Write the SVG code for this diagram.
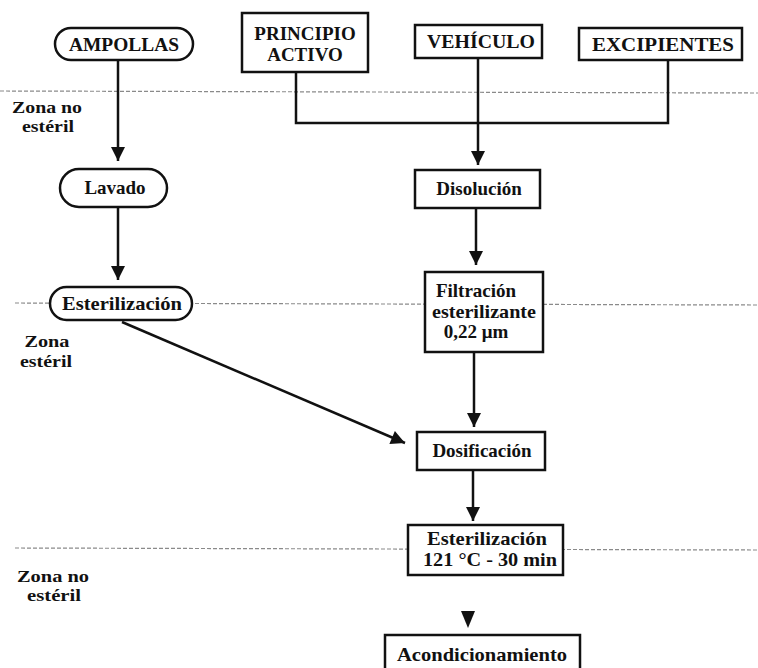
<svg xmlns="http://www.w3.org/2000/svg" width="758" height="668" viewBox="0 0 758 668">
<style>
  .bg{fill:#fff}
  .zone{stroke:#8a8a8a;stroke-width:1.2;stroke-dasharray:4 2;fill:none}
  .node{fill:#fff;stroke:#111;stroke-width:2.5}
  .conn{fill:none;stroke:#111;stroke-width:2.5}
  text{font-family:"Liberation Serif","Times New Roman",serif;font-weight:bold;fill:#111;text-anchor:middle}
  .t{font-size:19px}
  .z{font-size:16px}
</style>
<defs>
  <marker id="arr" viewBox="0 0 10 10" refX="10" refY="5" markerWidth="15" markerHeight="14" markerUnits="userSpaceOnUse" orient="auto">
    <path d="M0,0 L10,5 L0,10 z" fill="#111"/>
  </marker>
</defs>
<rect class="bg" width="758" height="668"/>

<g id="zones">
  <path class="zone" d="M0,91 L758,93"/>
  <path class="zone" d="M15,303 L758,305"/>
  <path class="zone" d="M15,548 L758,550"/>
  <text class="z" x="47" y="113" textLength="70" lengthAdjust="spacingAndGlyphs">Zona no</text>
  <text class="z" x="48" y="132" textLength="52" lengthAdjust="spacingAndGlyphs">estéril</text>
  <text class="z" x="47" y="347" textLength="45" lengthAdjust="spacingAndGlyphs">Zona</text>
  <text class="z" x="46" y="367" textLength="52" lengthAdjust="spacingAndGlyphs">estéril</text>
  <text class="z" x="53" y="582" textLength="72" lengthAdjust="spacingAndGlyphs">Zona no</text>
  <text class="z" x="54" y="601" textLength="54" lengthAdjust="spacingAndGlyphs">estéril</text>
</g>

<g id="connectors">
  <path class="conn" d="M118,60 V161" marker-end="url(#arr)"/>
  <path class="conn" d="M118,208 V280" marker-end="url(#arr)"/>
  <path class="conn" d="M296,72 V123 H668 V60"/>
  <path class="conn" d="M478,58 V165" marker-end="url(#arr)"/>
  <path class="conn" d="M476,208 V265" marker-end="url(#arr)"/>
  <path class="conn" d="M474,352 V427" marker-end="url(#arr)"/>
  <path class="conn" d="M122,322 L405,443" marker-end="url(#arr)"/>
  <path class="conn" d="M473,470 V521" marker-end="url(#arr)"/>
  <path d="M461,611 L475,611 L468,628 z" fill="#111"/>
</g>

<g id="ampollas">
  <rect class="node" x="55" y="28" width="138" height="32" rx="16"/>
  <text class="t" x="124" y="51" textLength="110" lengthAdjust="spacingAndGlyphs">AMPOLLAS</text>
</g>
<g id="principio-activo">
  <rect class="node" x="242" y="13" width="126" height="59"/>
  <text class="t" x="305" y="40">PRINCIPIO</text>
  <text class="t" x="305" y="61">ACTIVO</text>
</g>
<g id="vehiculo">
  <rect class="node" x="415" y="25" width="127" height="33"/>
  <text class="t" x="481" y="48" textLength="108" lengthAdjust="spacingAndGlyphs">VEHÍCULO</text>
</g>
<g id="excipientes">
  <rect class="node" x="579" y="28" width="163" height="32"/>
  <text class="t" x="663" y="51" textLength="142" lengthAdjust="spacingAndGlyphs">EXCIPIENTES</text>
</g>
<g id="lavado">
  <rect class="node" x="60" y="169" width="107" height="38" rx="19"/>
  <text class="t" x="115" y="194">Lavado</text>
</g>
<g id="disolucion">
  <rect class="node" x="415" y="170" width="125" height="38"/>
  <text class="t" x="479" y="195">Disolución</text>
</g>
<g id="esterilizacion-ampollas">
  <rect class="node" x="50" y="287" width="142" height="33" rx="16.5"/>
  <text class="t" x="122" y="310" textLength="120" lengthAdjust="spacingAndGlyphs">Esterilización</text>
</g>
<g id="filtracion">
  <rect class="node" x="425" y="272" width="118" height="80"/>
  <text class="t" x="476" y="297">Filtración</text>
  <text class="t" x="484" y="318" textLength="104" lengthAdjust="spacingAndGlyphs">esterilizante</text>
  <text class="t" x="476" y="338">0,22 μm</text>
</g>
<g id="dosificacion">
  <rect class="node" x="417" y="432" width="128" height="38"/>
  <text class="t" x="482" y="457">Dosificación</text>
</g>
<g id="esterilizacion-final">
  <rect class="node" x="408" y="525" width="155" height="50"/>
  <text class="t" x="487" y="545" textLength="120" lengthAdjust="spacingAndGlyphs">Esterilización</text>
  <text class="t" x="490" y="566" textLength="134" lengthAdjust="spacingAndGlyphs">121 °C - 30 min</text>
</g>
<g id="acondicionamiento">
  <rect class="node" x="385" y="635" width="195" height="45"/>
  <text class="t" x="482" y="661" textLength="170" lengthAdjust="spacingAndGlyphs">Acondicionamiento</text>
</g>
</svg>
